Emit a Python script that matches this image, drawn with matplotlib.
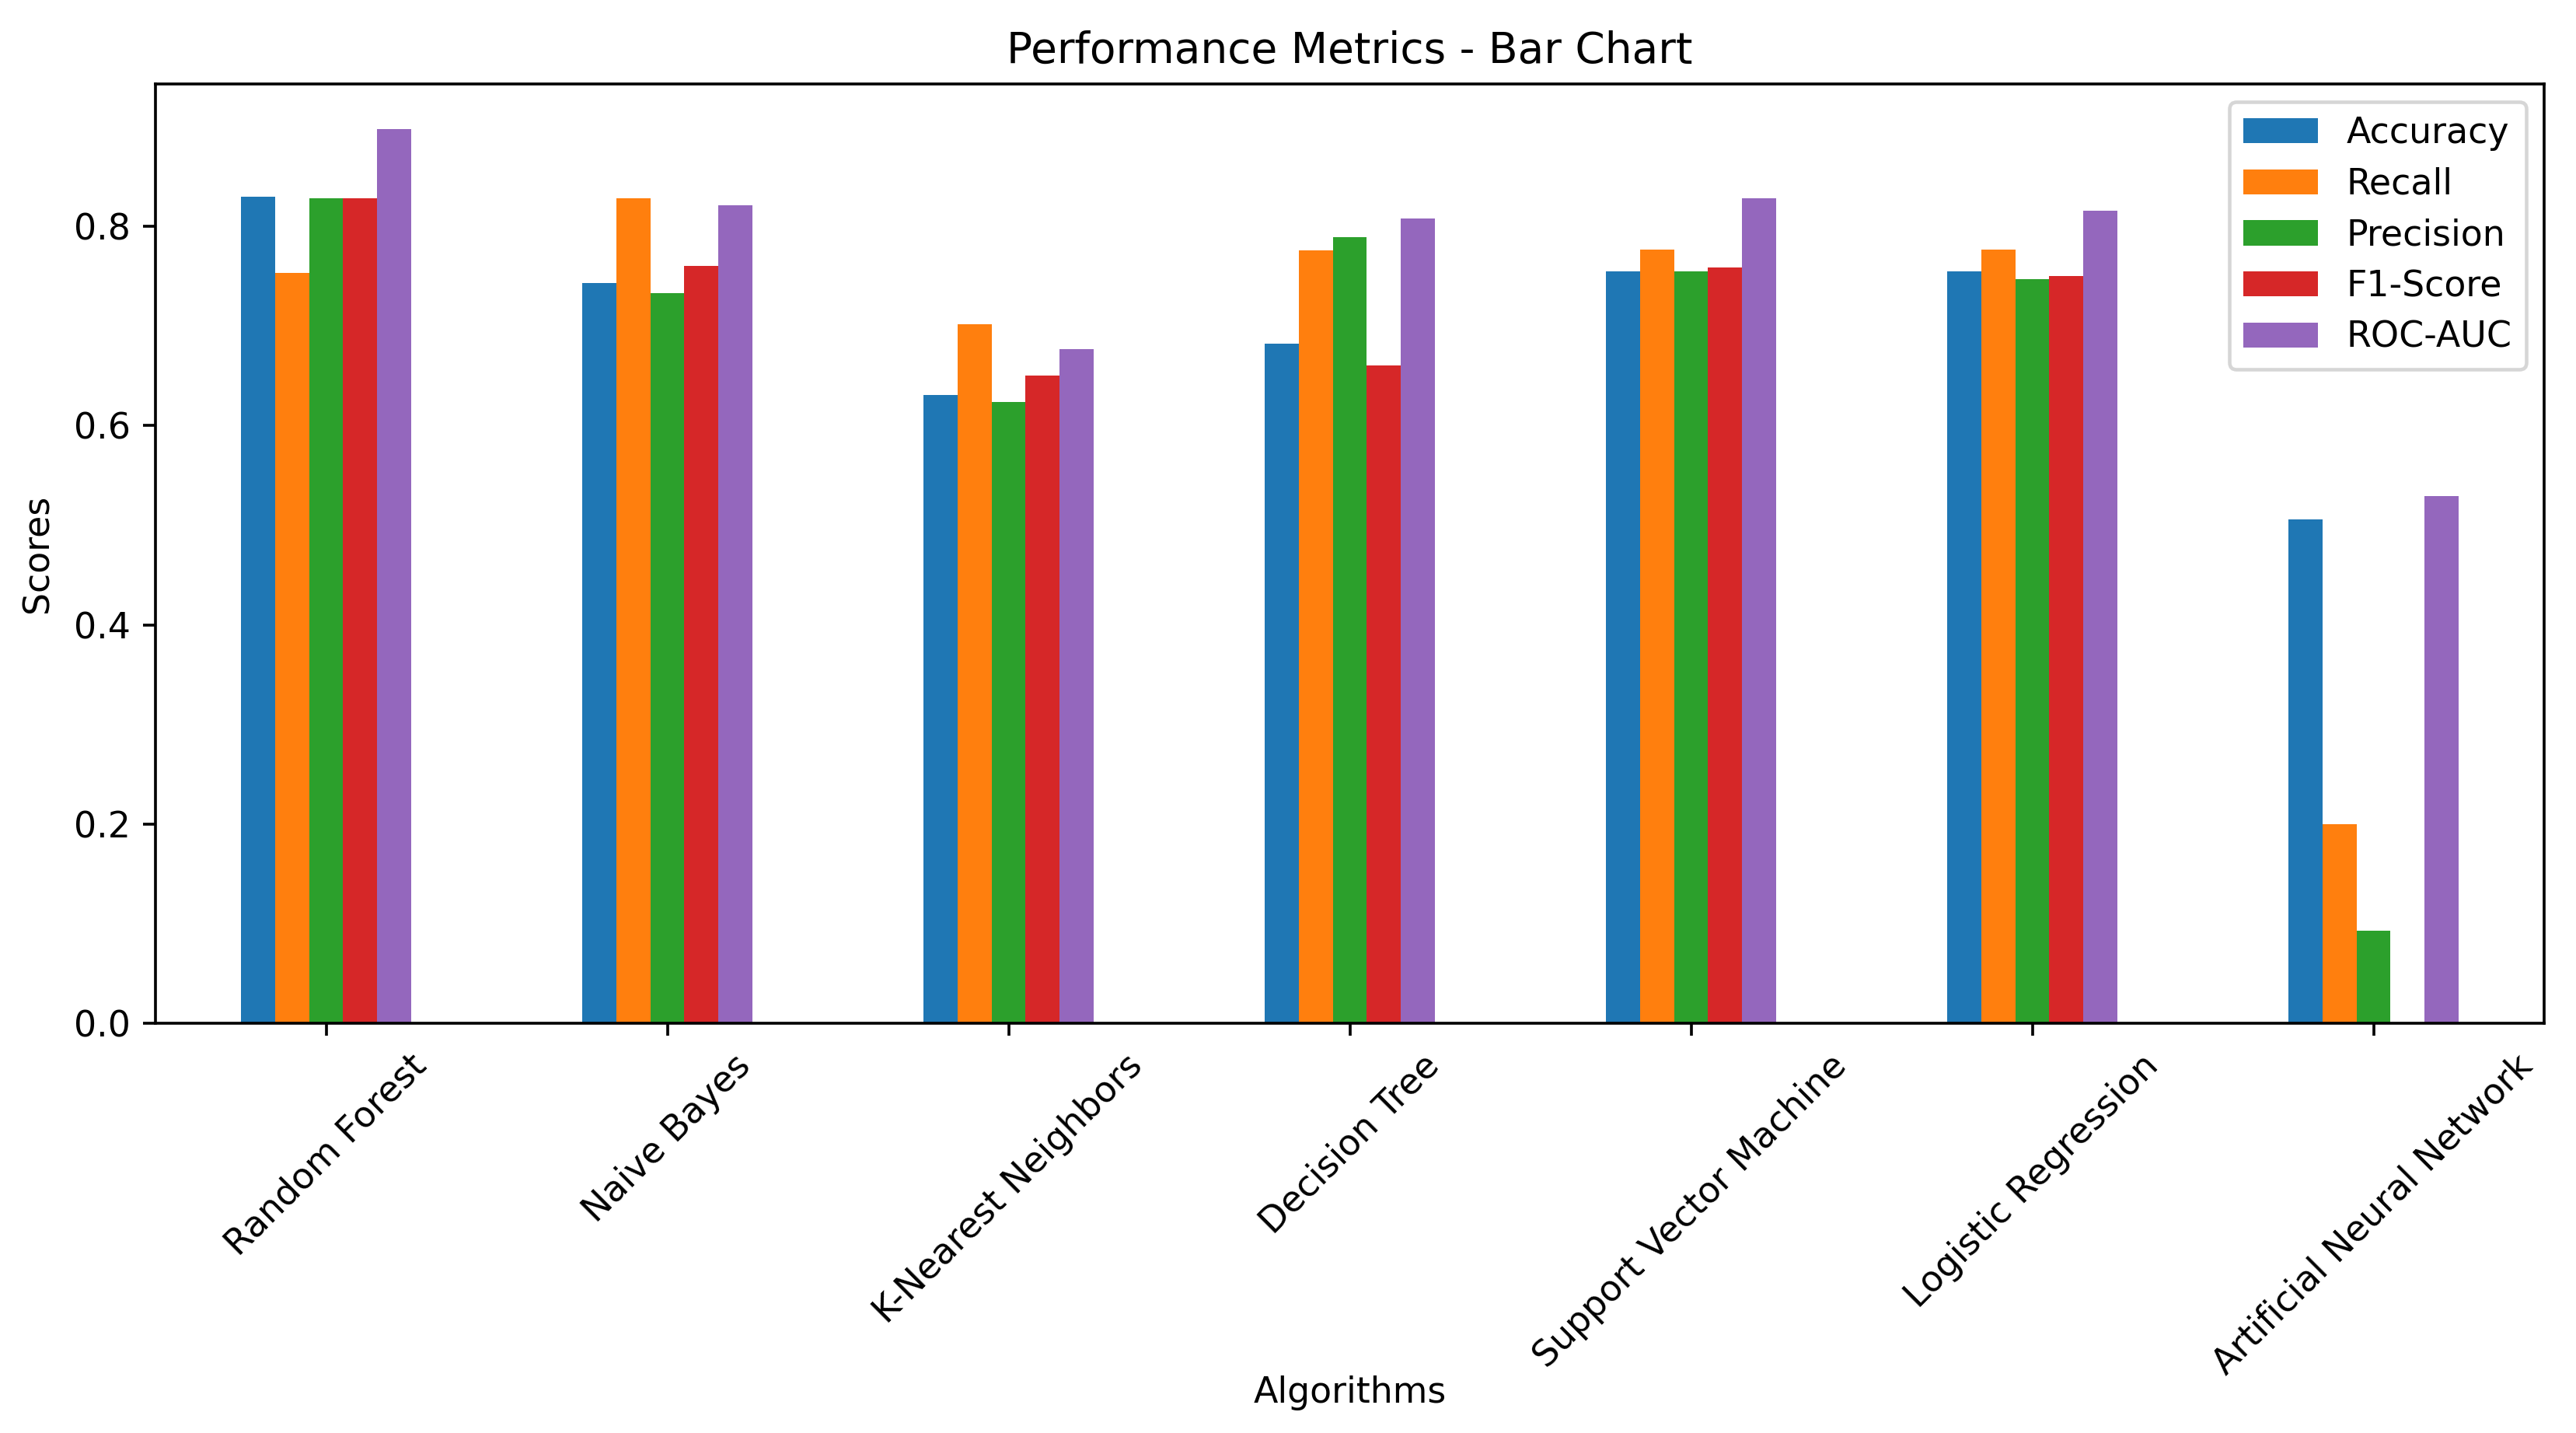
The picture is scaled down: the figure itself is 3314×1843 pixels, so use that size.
import numpy as np
import matplotlib
matplotlib.use("Agg")
import matplotlib.pyplot as plt

algorithms = ["Random Forest", "Naive Bayes", "K-Nearest Neighbors", "Decision Tree",
              "Support Vector Machine", "Logistic Regression", "Artificial Neural Network"]
metric_names = ["Accuracy", "Recall", "Precision", "F1-Score", "ROC-AUC"]
accuracy = [0.830, 0.743, 0.631, 0.682, 0.755, 0.755, 0.506]
recall = [0.753, 0.828, 0.702, 0.776, 0.777, 0.777, 0.200]
precision = [0.828, 0.733, 0.624, 0.789, 0.755, 0.747, 0.093]
f1_score = [0.828, 0.760, 0.650, 0.660, 0.759, 0.750, 0.0]
roc_auc = [0.898, 0.821, 0.677, 0.808, 0.828, 0.816, 0.529]
series = [accuracy, recall, precision, f1_score, roc_auc]
colors = ["#1f77b4", "#ff7f0e", "#2ca02c", "#d62728", "#9467bd"]

dpi = 330
fig = plt.figure(figsize=(3314 / dpi, 1843 / dpi), dpi=dpi)
ax = fig.add_subplot(111)
fig.subplots_adjust(left=200 / 3314, right=3273 / 3314, top=1 - 108 / 1843, bottom=1 - 1316 / 1843)

x = np.arange(len(algorithms))
group_w = 0.5
w = group_w / len(series)
for i, (name, vals, c) in enumerate(zip(metric_names, series, colors)):
    ax.bar(x - group_w / 2 + (i + 0.5) * w, vals, w, color=c, label=name)

ax.set_xlim(-0.5, len(algorithms) - 0.5)
ax.set_xticks(x)
ax.set_xticklabels(algorithms, rotation=45)
ax.set_title("Performance Metrics - Bar Chart", fontsize=12)
ax.set_xlabel("Algorithms", labelpad=-1.5)
ax.set_ylabel("Scores", labelpad=5)
ax.legend(loc="upper right", labelspacing=0.45, handlelength=2.1)

fig.savefig("out.png", dpi=dpi)
